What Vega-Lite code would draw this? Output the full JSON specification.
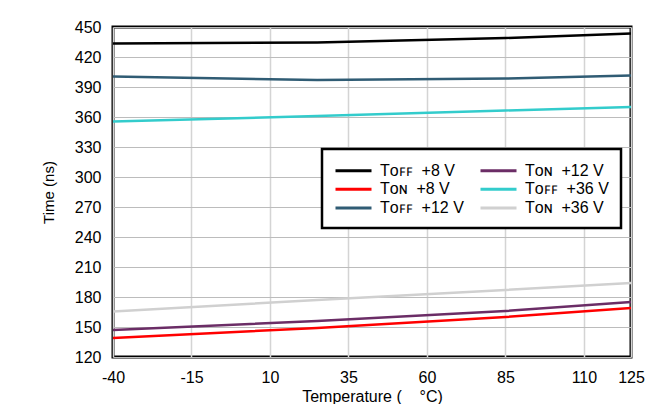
{
  "$schema": "https://vega.github.io/schema/vega-lite/v6.json",
  "autosize": "none",
  "width": 518,
  "height": 330,
  "padding": {"left": 113, "top": 27, "right": 40, "bottom": 47},
  "background": "white",
  "config": {
    "font": "Liberation Sans",
    "view": {"stroke": "black", "strokeWidth": 3},
    "axis": {
      "labelFont": "Liberation Sans",
      "titleFont": "Liberation Sans",
      "labelFontSize": 16,
      "titleFontSize": 15,
      "labelColor": "#000000",
      "titleColor": "#000000",
      "titleFontWeight": "normal",
      "ticks": false,
      "domain": false,
      "gridColor": "#bcbcbc",
      "gridWidth": 1
    },
    "legend": {
      "labelFont": "Liberation Sans",
      "labelFontSize": 16,
      "labelColor": "#000000"
    }
  },
  "data": {
    "values": [
      {"series": "Tᴏꜰꜰ\u00a0 +8 V", "temp": -40, "time": 433.5},
      {"series": "Tᴏꜰꜰ\u00a0 +8 V", "temp": 25, "time": 434.5},
      {"series": "Tᴏꜰꜰ\u00a0 +8 V", "temp": 85, "time": 439},
      {"series": "Tᴏꜰꜰ\u00a0 +8 V", "temp": 125, "time": 443.5},
      {"series": "Tᴏɴ\u00a0 +8 V", "temp": -40, "time": 139},
      {"series": "Tᴏɴ\u00a0 +8 V", "temp": 25, "time": 149},
      {"series": "Tᴏɴ\u00a0 +8 V", "temp": 85, "time": 160},
      {"series": "Tᴏɴ\u00a0 +8 V", "temp": 125, "time": 169},
      {"series": "Tᴏꜰꜰ\u00a0 +12 V", "temp": -40, "time": 400.5},
      {"series": "Tᴏꜰꜰ\u00a0 +12 V", "temp": 25, "time": 397},
      {"series": "Tᴏꜰꜰ\u00a0 +12 V", "temp": 85, "time": 398.5},
      {"series": "Tᴏꜰꜰ\u00a0 +12 V", "temp": 125, "time": 401.5},
      {"series": "Tᴏɴ\u00a0 +12 V", "temp": -40, "time": 147},
      {"series": "Tᴏɴ\u00a0 +12 V", "temp": 25, "time": 156},
      {"series": "Tᴏɴ\u00a0 +12 V", "temp": 85, "time": 166},
      {"series": "Tᴏɴ\u00a0 +12 V", "temp": 125, "time": 175},
      {"series": "Tᴏꜰꜰ\u00a0 +36 V", "temp": -40, "time": 355.5},
      {"series": "Tᴏꜰꜰ\u00a0 +36 V", "temp": 25, "time": 361},
      {"series": "Tᴏꜰꜰ\u00a0 +36 V", "temp": 85, "time": 366.5},
      {"series": "Tᴏꜰꜰ\u00a0 +36 V", "temp": 125, "time": 370},
      {"series": "Tᴏɴ\u00a0 +36 V", "temp": -40, "time": 165.5},
      {"series": "Tᴏɴ\u00a0 +36 V", "temp": 25, "time": 177},
      {"series": "Tᴏɴ\u00a0 +36 V", "temp": 85, "time": 187},
      {"series": "Tᴏɴ\u00a0 +36 V", "temp": 125, "time": 194}
    ]
  },
  "mark": {"type": "line", "strokeWidth": 2.5, "clip": true},
  "encoding": {
    "x": {
      "field": "temp",
      "type": "quantitative",
      "scale": {"domain": [-40, 125], "nice": false, "zero": false},
      "axis": {
        "values": [-40, -15, 10, 35, 60, 85, 110, 125],
        "labelExpr": "'' + datum.value",
        "title": "Temperature (\u00a0\u00a0\u00a0\u00a0°C)",
        "titleFontSize": 16,
        "labelPadding": 12,
        "titlePadding": 3,
        "labelFlush": false,
        "gridColor": "#d4d4d4",
        "gridWidth": 1.5
      }
    },
    "y": {
      "field": "time",
      "type": "quantitative",
      "scale": {"domain": [120, 450], "nice": false, "zero": false},
      "axis": {
        "values": [120, 150, 180, 210, 240, 270, 300, 330, 360, 390, 420, 450],
        "title": "Time (ns)",
        "labelPadding": 12,
        "titlePadding": 18
      }
    },
    "color": {
      "field": "series",
      "type": "nominal",
      "scale": {
        "domain": ["Tᴏꜰꜰ\u00a0 +8 V", "Tᴏɴ\u00a0 +12 V", "Tᴏɴ\u00a0 +8 V", "Tᴏꜰꜰ\u00a0 +36 V", "Tᴏꜰꜰ\u00a0 +12 V", "Tᴏɴ\u00a0 +36 V"],
        "range": ["#000000", "#6b2d66", "#ff0000", "#33cccc", "#305c74", "#d0d0d0"]
      },
      "legend": {
        "title": null,
        "orient": "none",
        "legendX": 209,
        "legendY": 122,
        "columns": 2,
        "direction": "horizontal",
        "gridAlign": "all",
        "columnPadding": 10,
        "rowPadding": 0.7,
        "padding": 12,
        "symbolType": "M-1,0H3.5",
        "symbolSize": 256,
        "symbolStrokeWidth": 3,
        "labelOffset": 27,
        "strokeColor": "black",
        "fillColor": "white",
        "labelLimit": 200,
        "encode": {"legend": {"update": {"strokeWidth": {"value": 2.5}}}}
      }
    }
  }
}
